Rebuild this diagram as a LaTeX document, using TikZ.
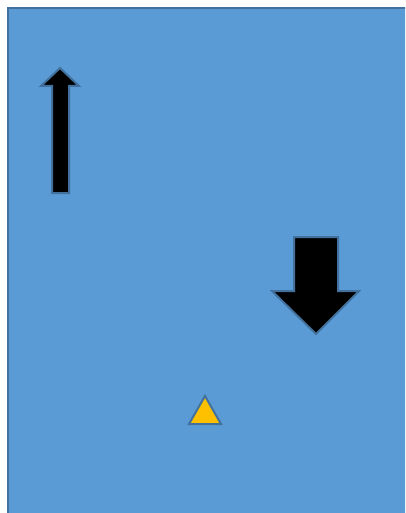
\documentclass[tikz,border=0pt]{standalone}
\usepackage{tikz}
\definecolor{slidefill}{HTML}{5B9BD5}
\definecolor{slideedge}{HTML}{41719C}
\definecolor{tripink}{HTML}{FFC000}
\tikzset{
  panel/.style={draw=slideedge,fill=slidefill,line width=2pt},
  blockarrow/.style={draw=slideedge,fill=black,line width=2pt,line join=miter},
  marker/.style={draw=slideedge,fill=tripink,line width=2pt,line join=miter}
}
\begin{document}
\begin{tikzpicture}[x=1pt,y=-1pt]
  \useasboundingbox (0,0) rectangle (405,513);
  \clip (0,0) rectangle (405,513);
  % background panel
  \draw[panel] (8,8) rectangle (412,520);
  % up arrow
  \draw[blockarrow] (52,193) -- (52,86) -- (41,86) -- (60,68) -- (79,86)
    -- (69,86) -- (69,193) -- cycle;
  % down arrow
  \draw[blockarrow] (294,237) -- (338,237) -- (338,291) -- (359,291)
    -- (316,334) -- (272,291) -- (294,291) -- cycle;
  % small triangle
  \draw[marker] (189,424) -- (205,396) -- (221,424) -- cycle;
\end{tikzpicture}
\end{document}
